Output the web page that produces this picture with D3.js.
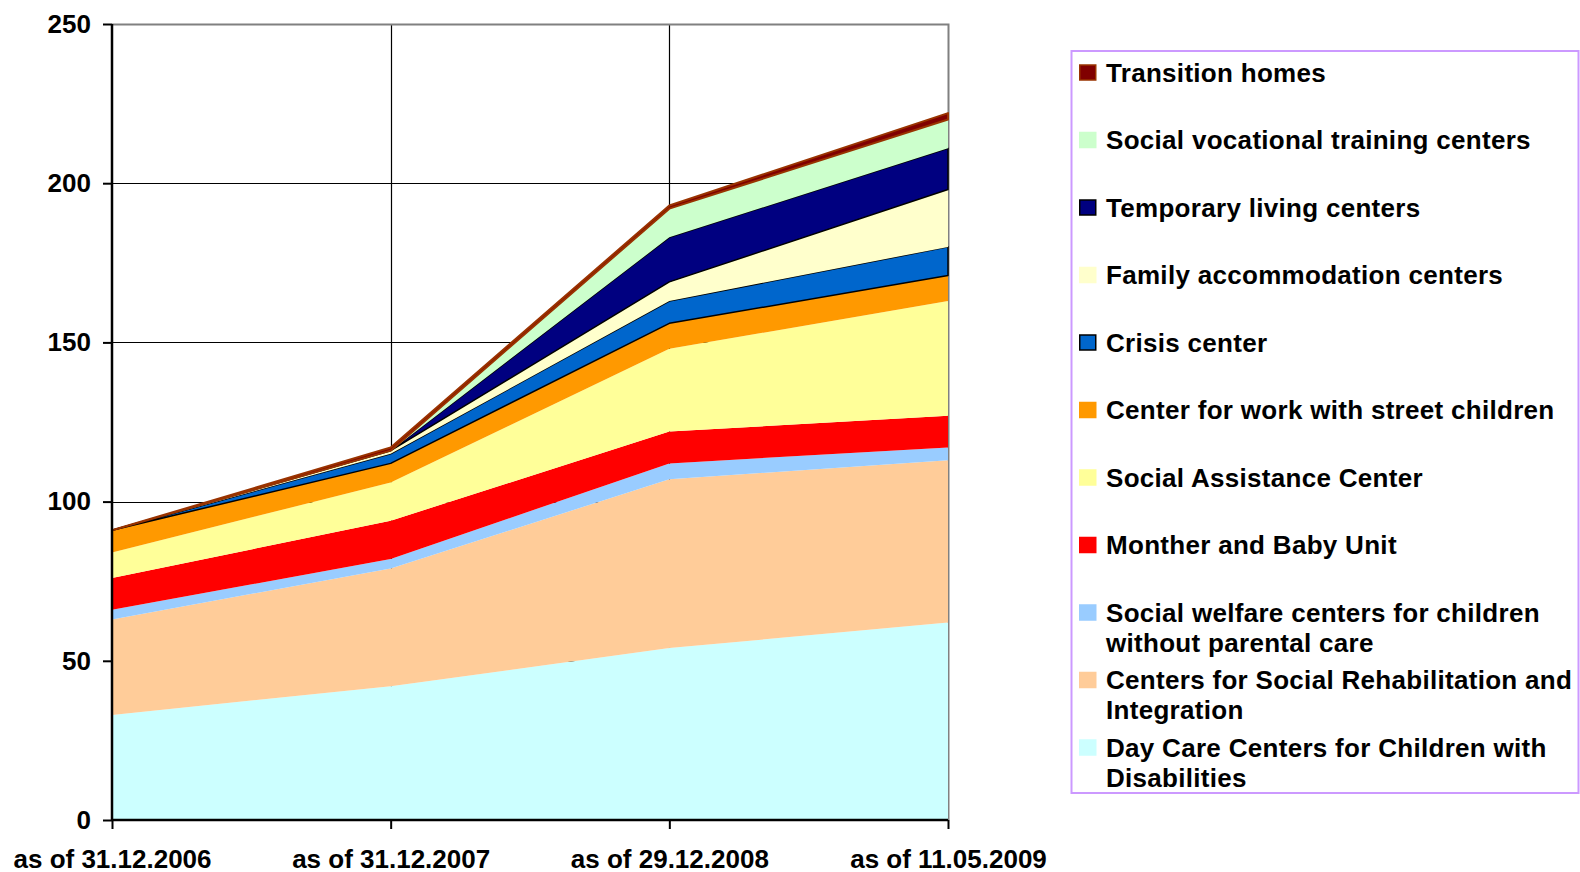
<!DOCTYPE html>
<html>
	<head>
		<style>
			body {
				margin: 0;
				background: #fff;
			}

			#chart {
				display: block;
				font-family: 'Liberation Sans', Arial, sans-serif;
				font-weight: bold;
			}
		</style>
	</head>
	<body>
		<svg id="chart" width="1580" height="872"></svg>
		<script src="https://cdnjs.cloudflare.com/ajax/libs/d3/7.8.5/d3.min.js"></script>

		<script>
			let dates = [
				'as of 31.12.2006',
				'as of 31.12.2007',
				'as of 29.12.2008',
				'as of 11.05.2009',
			];

			// stacked from the bottom up
			let dayCare = [33, 42, 54, 62];
			let rehabilitation = [30, 37, 53, 51];
			let welfare = [3, 3, 5, 4];
			let motherBaby = [10, 12, 10, 10];
			let socialAssistance = [8, 12, 26, 36];
			let streetChildren = [7, 6, 8, 8];
			let crisis = [0, 3, 7, 9];
			let familyAccommodation = [0, 1, 6, 18];
			let temporaryLiving = [0, 0, 14, 13];
			let vocational = [0, 0, 9, 9];
			let transition = [0, 1, 1, 2];

			let yTicks = [0, 50, 100, 150, 200, 250];

			let series = [
				{ key: 'dayCare', values: dayCare, name: ['Day Care Centers for Children with', 'Disabilities'], fill: '#ccffff', stroke: 'none' },
				{ key: 'rehab', values: rehabilitation, name: ['Centers for Social Rehabilitation and', 'Integration'], fill: '#ffcc99', stroke: 'none' },
				{ key: 'welfare', values: welfare, name: ['Social welfare centers for children', 'without parental care'], fill: '#99ccff', stroke: 'none' },
				{ key: 'motherBaby', values: motherBaby, name: ['Monther and Baby Unit'], fill: '#ff0000', stroke: 'none' },
				{ key: 'assistance', values: socialAssistance, name: ['Social Assistance Center'], fill: '#ffff99', stroke: 'none' },
				{ key: 'street', values: streetChildren, name: ['Center for work with street children'], fill: '#ff9900', stroke: 'none' },
				{ key: 'crisis', values: crisis, name: ['Crisis center'], fill: '#0066cc', stroke: '#000' },
				{ key: 'family', values: familyAccommodation, name: ['Family accommodation centers'], fill: '#ffffcc', stroke: 'none' },
				{ key: 'temporary', values: temporaryLiving, name: ['Temporary living centers'], fill: '#000080', stroke: '#000' },
				{ key: 'vocational', values: vocational, name: ['Social vocational training centers'], fill: '#ccffcc', stroke: 'none' },
				{ key: 'transition', values: transition, name: ['Transition homes'], fill: '#800000', stroke: '#993300' },
			];

			let plot = { left: 112, right: 948, top: 24, bottom: 820 };

			draw();

			function draw() {
				let svg = d3.select('#chart');

				let rows = dates.map((d, i) => {
					let row = { date: d };
					series.forEach(s => (row[s.key] = s.values[i]));
					return row;
				});

				let stack = d3.stack().keys(series.map(s => s.key));
				let layers = stack(rows);

				let x = d3
					.scalePoint()
					.domain(dates)
					.range([plot.left, plot.right]);

				let y = d3
					.scaleLinear()
					.domain([0, 250])
					.range([plot.bottom, plot.top]);

				// gridlines
				let grid = svg.append('g');
				grid.selectAll('line.h')
					.data(yTicks.slice(1, -1))
					.enter()
					.append('line')
					.attr('x1', plot.left)
					.attr('x2', plot.right)
					.attr('y1', d => Math.round(y(d)) + 0.5)
					.attr('y2', d => Math.round(y(d)) + 0.5)
					.attr('stroke', '#000')
					.attr('stroke-width', 1.2);
				grid.selectAll('line.v')
					.data(dates.slice(1, -1))
					.enter()
					.append('line')
					.attr('x1', d => Math.round(x(d)) + 0.5)
					.attr('x2', d => Math.round(x(d)) + 0.5)
					.attr('y1', plot.top)
					.attr('y2', plot.bottom)
					.attr('stroke', '#000')
					.attr('stroke-width', 1.2);
				// plot border top and right
				grid.append('path')
					.attr('d', `M${plot.left},${plot.top + 0.5}H${plot.right + 0.5}V${plot.bottom}`)
					.attr('fill', 'none')
					.attr('stroke', '#808080')
					.attr('stroke-width', 2);

				let area = d3
					.area()
					.x(d => x(d.data.date))
					.y0(d => y(d[0]))
					.y1(d => y(d[1]));

				svg.append('g')
					.selectAll('path')
					.data(layers)
					.enter()
					.append('path')
					.attr('d', area)
					.attr('fill', (d, i) => series[i].fill)
					.attr('stroke', (d, i) => series[i].stroke)
					.attr('stroke-width', (d, i) => (series[i].key === 'transition' ? 2 : 1.5))
					.attr('stroke-linejoin', 'round');

				// axes
				let yAxis = svg
					.append('g')
					.attr('transform', `translate(${plot.left},0)`)
					.call(d3.axisLeft(y).tickValues(yTicks).tickSize(9).tickPadding(12));
				let xAxis = svg
					.append('g')
					.attr('transform', `translate(0,${plot.bottom})`)
					.call(d3.axisBottom(x).tickSize(9).tickPadding(21));

				[yAxis, xAxis].forEach(a => {
					a.select('.domain').attr('stroke', '#000').attr('stroke-width', 2.5);
					a.selectAll('.tick line').attr('stroke', '#000').attr('stroke-width', 2);
					a.selectAll('.tick text')
						.attr('fill', '#000')
						.style('font-family', "'Liberation Sans', Arial, sans-serif")
						.style('font-weight', 'bold')
						.style('font-size', '26px');
				});
				yAxis.select('.domain').attr('d', `M0,${plot.bottom}V${plot.top}`);
				xAxis.select('.domain').attr('d', `M${plot.left},0H${plot.right}`);

				// legend
				let legend = svg.append('g');
				legend.append('rect')
					.attr('x', 1071.5)
					.attr('y', 51)
					.attr('width', 507)
					.attr('height', 742)
					.attr('fill', '#fff')
					.attr('stroke', '#cc99ff')
					.attr('stroke-width', 2);

				let items = legend
					.selectAll('g.item')
					.data(series.slice().reverse())
					.enter()
					.append('g')
					.attr('transform', (d, i) => `translate(1079,${72.5 + i * 67.5})`);

				items.append('rect')
					.attr('x', 0.75)
					.attr('y', -7.5)
					.attr('width', 16)
					.attr('height', 15)
					.attr('fill', d => d.fill)
					.attr('stroke', d => (d.stroke === 'none' ? d.fill : d.stroke))
					.attr('stroke-width', 1.5);

				items.append('text')
					.style('font-size', '26px')
					.style('letter-spacing', '0.3px')
					.selectAll('tspan')
					.data(d => d.name)
					.enter()
					.append('tspan')
					.attr('x', 27)
					.attr('y', (d, i) => 9 + i * 30)
					.text(d => d);
			}
		</script>
	</body>
</html>
